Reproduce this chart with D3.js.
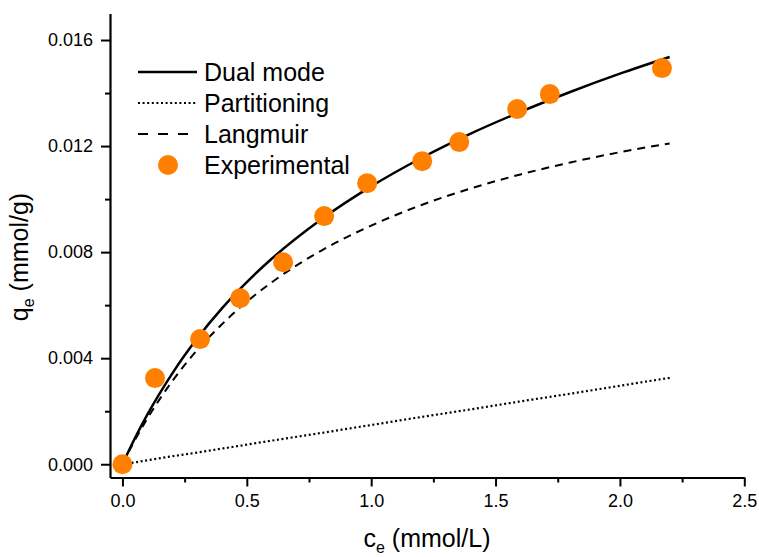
<!DOCTYPE html>
<html>
<head>
<meta charset="utf-8">
<script src="https://cdn.jsdelivr.net/npm/d3@7"></script>
<style>
body { margin: 0; background: #fff; }
text { font-family: "Liberation Sans", Arial, sans-serif; fill: #000; }
</style>
</head>
<body>
<script>
// experimental points (ce, qe)
var expX = [0.0, 0.131, 0.312, 0.473, 0.646, 0.811, 0.984, 1.205, 1.354, 1.587, 1.718, 2.169]
var expY = [0.0, 0.00325, 0.00472, 0.00626, 0.00762, 0.00936, 0.0106, 0.01143, 0.01215, 0.0134, 0.01396, 0.01494]

// model curves
var curveX = [0, 0.05, 0.1, 0.2, 0.3, 0.4, 0.5, 0.6, 0.8, 1.0, 1.2, 1.4, 1.6, 1.8, 2.0, 2.2]
var dualMode = [0, 0.00098, 0.00187, 0.00342, 0.00474, 0.00588, 0.00687, 0.00775, 0.00924, 0.01048, 0.01154, 0.01247, 0.01329, 0.01404, 0.01473, 0.01536]
var partitioning = [0, 0.00007, 0.00015, 0.0003, 0.00044, 0.00059, 0.00074, 0.00089, 0.00118, 0.00148, 0.00178, 0.00207, 0.00237, 0.00266, 0.00296, 0.00326]
var langmuir = [0, 0.00091, 0.00172, 0.00313, 0.0043, 0.00528, 0.00613, 0.00686, 0.00806, 0.009, 0.00977, 0.0104, 0.01093, 0.01138, 0.01177, 0.0121]

var xTicks = [0.0, 0.5, 1.0, 1.5, 2.0, 2.5]
var yTicks = [0.000, 0.004, 0.008, 0.012, 0.016]
var legendNames = ["Dual mode", "Partitioning", "Langmuir", "Experimental"]

var width = 759, height = 557

var svg = d3.select("body").append("svg")
    .attr("width", width)
    .attr("height", height)

var x = d3.scaleLinear().domain([-0.05, 2.5]).range([110, 744.3])
var y = d3.scaleLinear().domain([-0.0005, 0.017]).range([477.5, 13.5])

// minor ticks
svg.append("g")
    .attr("transform", "translate(0," + y.range()[0] + ")")
    .call(d3.axisBottom(x).tickValues([0.25, 0.75, 1.25, 1.75, 2.25]).tickSize(5).tickFormat(""))
    .call(function(g){ g.select(".domain").remove() })
    .selectAll("line").attr("stroke-width", 2)
svg.append("g")
    .attr("transform", "translate(" + x.range()[0] + ",0)")
    .call(d3.axisLeft(y).tickValues([0.002, 0.006, 0.010, 0.014]).tickSize(5).tickFormat(""))
    .call(function(g){ g.select(".domain").remove() })
    .selectAll("line").attr("stroke-width", 2)

// major axes
var xAxis = svg.append("g")
    .attr("transform", "translate(0," + y.range()[0] + ")")
    .call(d3.axisBottom(x).tickValues(xTicks).tickSize(9).tickPadding(8).tickSizeOuter(0).tickFormat(d3.format(".1f")))
var yAxis = svg.append("g")
    .attr("transform", "translate(" + x.range()[0] + ",0)")
    .call(d3.axisLeft(y).tickValues(yTicks).tickSize(9).tickPadding(8).tickSizeOuter(0).tickFormat(d3.format(".3f")))

;[xAxis, yAxis].forEach(function(g){
    g.select(".domain").attr("stroke-width", 2.2)
    g.selectAll(".tick line").attr("stroke-width", 2)
    g.selectAll(".tick text").style("font-size", "18px").style("font-family", "Liberation Sans, Arial, sans-serif")
})

// axis titles
var xt = svg.append("text")
    .attr("x", 427).attr("y", 547)
    .attr("text-anchor", "middle")
    .style("font-size", "25px")
xt.append("tspan").text("c")
xt.append("tspan").attr("dy", 6).style("font-size", "16px").text("e")
xt.append("tspan").attr("dy", -6).text(" (mmol/L)")

var yt = svg.append("text")
    .attr("transform", "translate(28,257) rotate(-90)")
    .attr("text-anchor", "middle")
    .style("font-size", "25px")
yt.append("tspan").text("q")
yt.append("tspan").attr("dy", 6).style("font-size", "16px").text("e")
yt.append("tspan").attr("dy", -6).text(" (mmol/g)")

// curves
var series = [
    {name: "Dual mode", vals: dualMode, dash: null, w: 2.5},
    {name: "Partitioning", vals: partitioning, dash: "2,2.6", w: 2.2},
    {name: "Langmuir", vals: langmuir, dash: "8,6", w: 2}
]

var line = d3.line()
    .x(function(d){ return x(d[0]) })
    .y(function(d){ return y(d[1]) })
    .curve(d3.curveMonotoneX)

series.forEach(function(s){
    svg.append("path")
        .datum(curveX.map(function(c, i){ return [c, s.vals[i]] }))
        .attr("d", line)
        .attr("fill", "none")
        .attr("stroke", "#000")
        .attr("stroke-width", s.w)
        .attr("stroke-dasharray", s.dash)
})

// experimental points
svg.selectAll("circle.exp")
    .data(expX.map(function(c, i){ return [c, expY[i]] }))
    .enter().append("circle")
    .attr("class", "exp")
    .attr("cx", function(d){ return x(d[0]) })
    .attr("cy", function(d){ return y(d[1]) })
    .attr("r", 10)
    .attr("fill", "#ff8000")

// legend
var legend = svg.append("g")
var rowY = [72, 103, 134, 165]
legendNames.forEach(function(name, i){
    if (i < 3) {
        legend.append("line")
            .attr("x1", 138).attr("x2", 197)
            .attr("y1", rowY[i]).attr("y2", rowY[i])
            .attr("stroke", "#000")
            .attr("stroke-width", series[i].w)
            .attr("stroke-dasharray", i == 2 ? "10,10" : series[i].dash)
    } else {
        legend.append("circle")
            .attr("cx", 168).attr("cy", rowY[i]).attr("r", 10)
            .attr("fill", "#ff8000")
    }
    legend.append("text")
        .attr("x", 204).attr("y", rowY[i] + 9)
        .style("font-size", "25px")
        .text(name)
})
</script>
</body>
</html>
